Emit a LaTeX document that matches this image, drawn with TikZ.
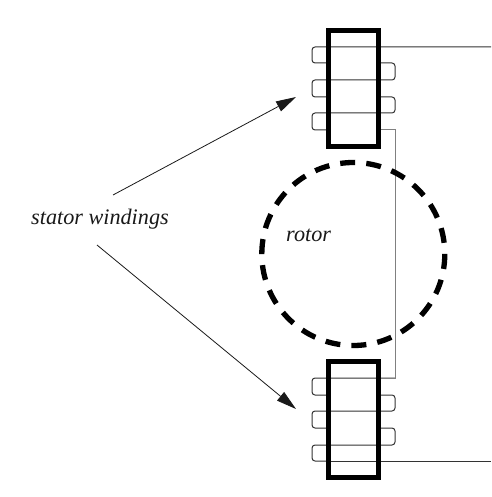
\documentclass[tikz,border=0pt]{standalone}
\usepackage{fontspec}
\setmainfont{Liberation Serif}
\usetikzlibrary{arrows.meta}
\tikzset{
  x=1pt,y=-1pt,
  wire/.style={line width=1pt,draw=black!80,rounded corners=3pt},
  riser/.style={line width=1pt,draw=black!50},
  frame/.style={draw=black,line width=5pt,line cap=butt,fill=none},
  rotorring/.style={draw=black,line width=5.3pt,dash pattern=on 15pt off 11.13pt},
  pointer/.style={line width=0.8pt,draw=black!90,-{Triangle[length=20pt,width=11pt]}},
  lab/.style={font=\itshape\fontsize{22.2}{24}\selectfont,inner sep=0pt,anchor=base west,text=black!90}
}
\begin{document}
\begin{tikzpicture}
\useasboundingbox (0,0) rectangle (491,497);
% wires of the upper stator
\draw[wire] (491,47) -- (312,47) -- (312,63) -- (328,63);
\draw[wire] (378,63) -- (395,63) -- (395,80) -- (312,80) -- (312,97) -- (328,97);
\draw[wire] (378,97) -- (395,97) -- (395,113) -- (312,113) -- (312,130) -- (328,130);
% wires of the lower stator
\draw[wire] (378,395) -- (395,395) -- (395,411) -- (312,411) -- (312,428) -- (328,428);
\draw[wire] (378,428) -- (395,428) -- (395,445) -- (312,445) -- (312,461) -- (328,461);
\draw[wire] (328,461) -- (491,461);
\draw[wire] (395,378) -- (312,378) -- (312,395) -- (328,395);
% link between stators
\draw[riser] (378,130) -- (395,130) -- (395,378) -- (380,378);
% stator frames
\draw[frame] (328.5,30.5) rectangle (378.5,146.5);
\draw[frame] (328.5,361.5) rectangle (378.5,477.5);
\coordinate (top) at (296,97);
\coordinate (bot) at (296,409);
\coordinate (s1) at (113,195);
\coordinate (s2) at (97,245);
\draw[rotorring] (353.3,254) circle[radius=91.5];
\node[lab] (sw) at (31,224) {stator windings};
\node[lab] (ro) at (286,241) {rotor};
\draw[pointer] (s1) -- (top);
\draw[pointer] (s2) -- (bot);
\end{tikzpicture}
\end{document}
